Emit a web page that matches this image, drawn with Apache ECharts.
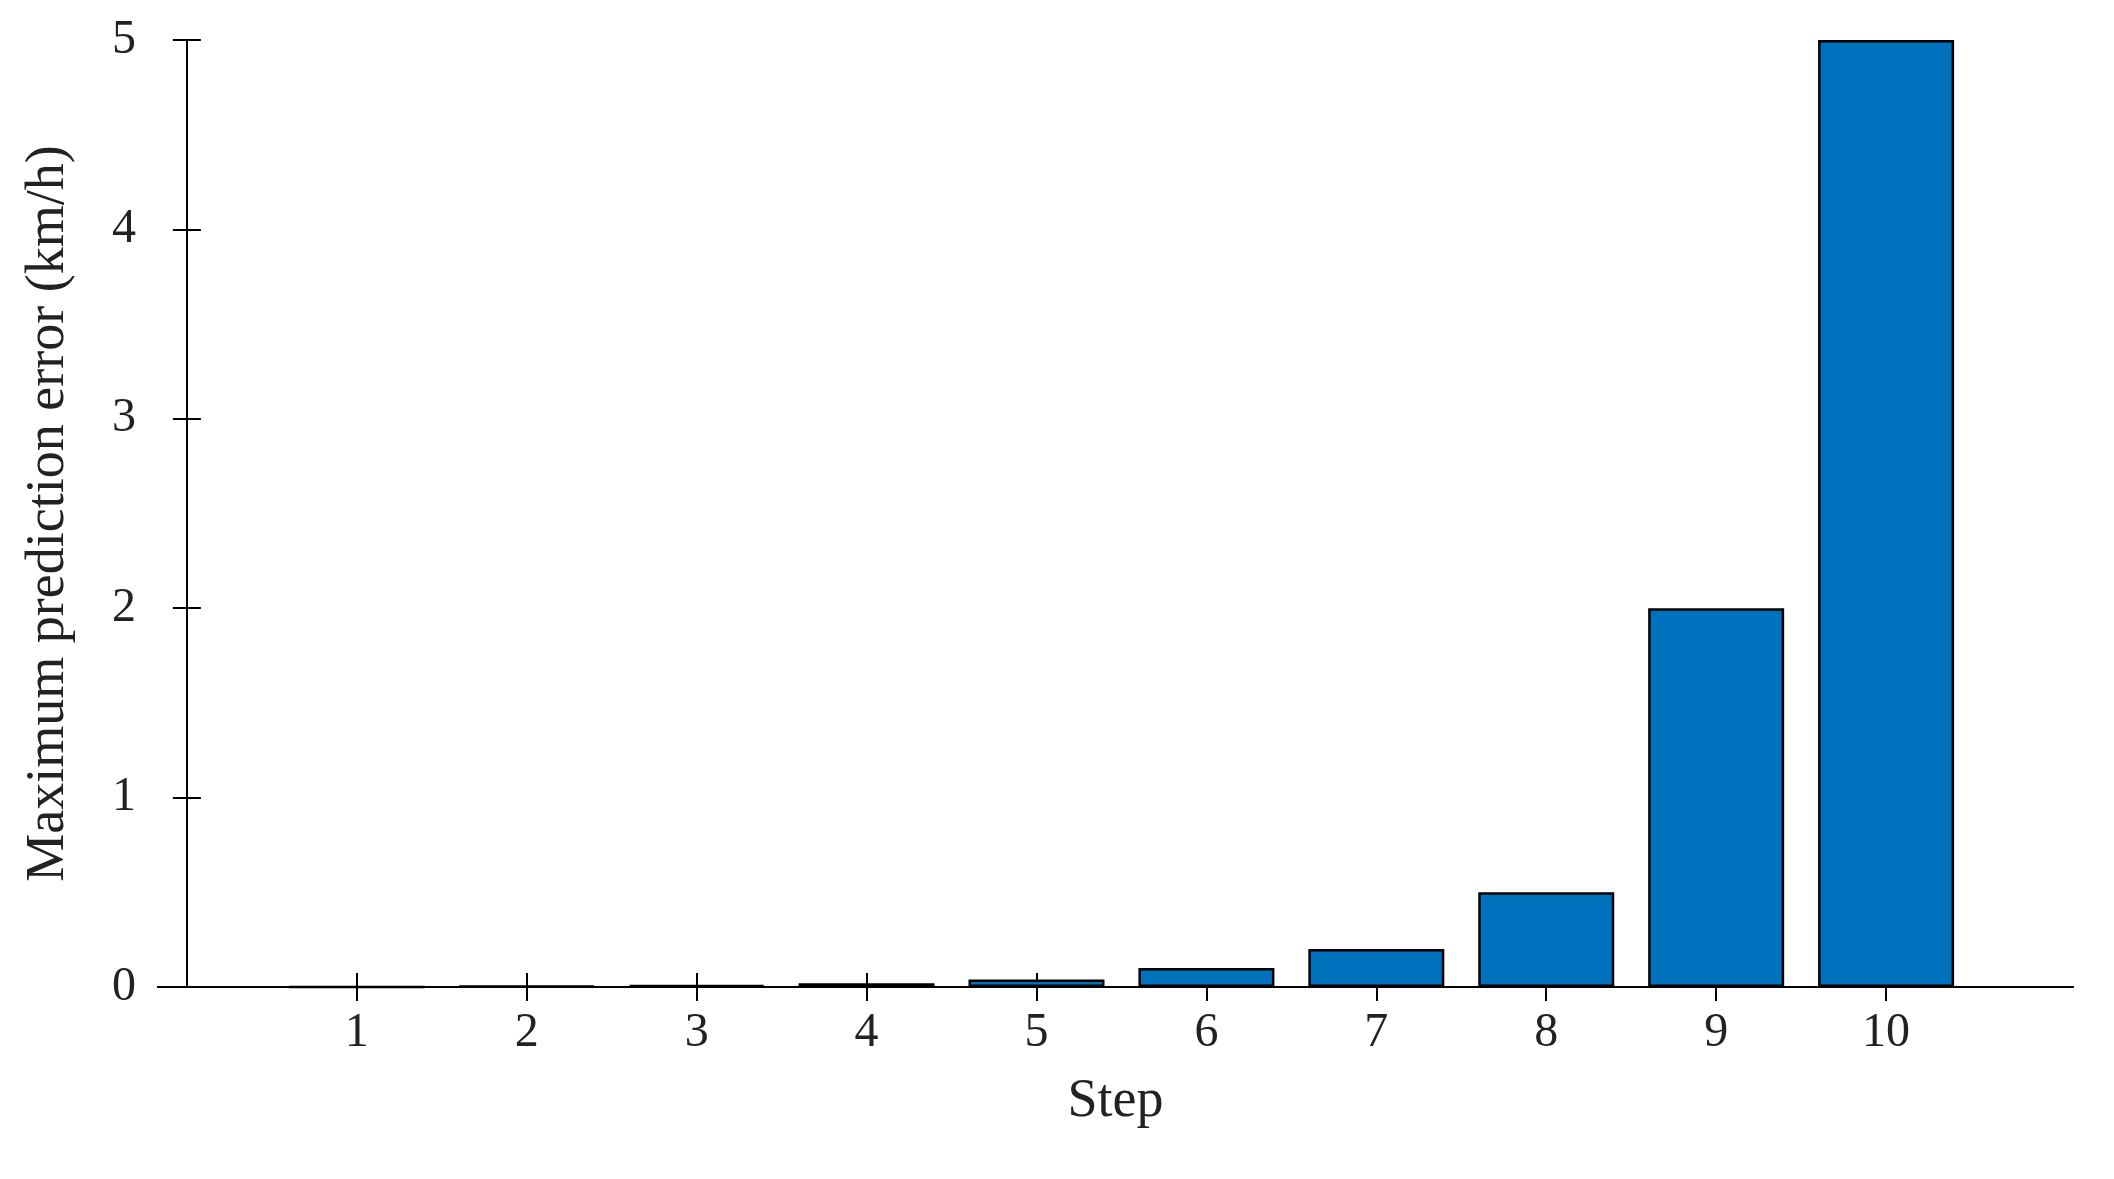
<!DOCTYPE html>
<html>
<head>
<meta charset="utf-8">
<script src="https://cdn.jsdelivr.net/npm/echarts@6/dist/echarts.min.js"></script>
<style>html,body{margin:0;background:#fff}#chart{width:2114px;height:1179px}</style>
</head>
<body>
<div id="chart"></div>
<script>
// steps and max prediction error (km/h)
var steps = [1, 2, 3, 4, 5, 6, 7, 8, 9, 10];
var maxErrors = [0.001, 0.005, 0.01, 0.02, 0.04, 0.1, 0.2, 0.5, 2, 5];
var yTicks = [0, 1, 2, 3, 4, 5];

var font = 'Liberation Serif';
var chart = echarts.init(document.getElementById('chart'));
var lineStyle = { color: '#000', width: 2 };

var option = {
	animation: false,
	textStyle: { fontFamily: font },
	grid: { left: 158, right: 41, top: 40, bottom: 192 },
	xAxis: [{
		type: 'value', min: -0.17, max: 11.1,
		name: 'Step', nameLocation: 'middle', nameGap: 88,
		nameTextStyle: { fontSize: 54, color: '#222', fontFamily: font },
		axisLine: { lineStyle: lineStyle },
		axisTick: { inside: true, length: 14, customValues: steps, lineStyle: lineStyle },
		axisLabel: { customValues: steps, fontSize: 48, color: '#222', margin: 22, fontFamily: font },
		splitLine: { show: false }
	}, {
		type: 'value', min: -0.17, max: 11.1, position: 'top',
		axisLine: { lineStyle: lineStyle },
		axisTick: { inside: true, length: 14, customValues: steps, lineStyle: lineStyle },
		axisLabel: { show: false }, splitLine: { show: false }
	}],
	yAxis: [{
		type: 'value', min: 0, max: 5, interval: 1,
		name: 'Maximum prediction error (km/h)', nameLocation: 'middle', nameGap: 82,
		nameTextStyle: { fontSize: 54, color: '#222', fontFamily: font },
		axisLine: { show: true, lineStyle: lineStyle },
		axisTick: { inside: true, length: 14, lineStyle: lineStyle },
		axisLabel: { fontSize: 48, color: '#222', margin: 22, fontFamily: font },
		splitLine: { show: false }
	}, {
		type: 'value', min: 0, max: 5, interval: 1, position: 'right',
		axisLine: { show: true, lineStyle: lineStyle },
		axisTick: { inside: true, length: 14, lineStyle: lineStyle },
		axisLabel: { show: false }, splitLine: { show: false }
	}],
	series: [{
		type: 'bar',
		barWidth: 136,
		data: steps.map(function(s, i) { return [s, maxErrors[i]]; }),
		itemStyle: { color: '#0072BD', borderColor: '#000', borderWidth: 2.5 }
	}]
};
chart.setOption(option);
</script>
</body>
</html>
